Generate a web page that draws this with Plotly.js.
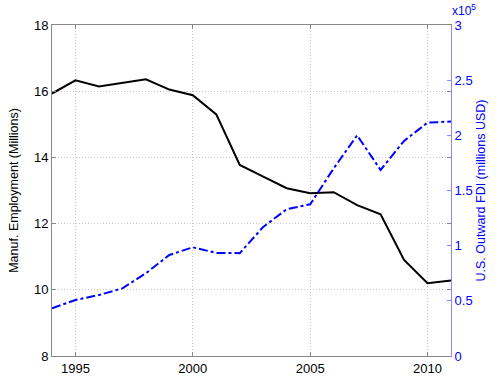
<!DOCTYPE html>
<html>
<head>
<meta charset="utf-8">
<script src="https://cdn.plot.ly/plotly-3.0.1.min.js"></script>
<style>html,body{margin:0;padding:0;background:#fff;}#chart{width:503px;height:383px;}</style>
</head>
<body>
<div id="chart"></div>
<script>
var years = [1994,1995,1996,1997,1998,1999,2000,2001,2002,2003,2004,2005,2006,2007,2008,2009,2010,2011];
var employment = [15.93,16.33,16.14,16.25,16.36,16.05,15.88,15.30,13.77,13.42,13.07,12.92,12.95,12.56,12.28,10.90,10.20,10.28];
var fdi = [43200,50800,55300,61300,75000,91600,98500,93400,93200,117000,133000,137500,170000,200000,168600,195000,211500,212500];
var xTicks = [1995,2000,2005,2010];
var yLeftTicks = [8,10,12,14,16,18];
var yRightTicks = [0,50000,100000,150000,200000,250000,300000];
var yRightLabels = ['0','0.5','1','1.5','2','2.5','3'];

var font = 'Liberation Sans, Arial, sans-serif';
var traces = [
  {x: years, y: employment, type: 'scatter', mode: 'lines', name: 'Employment',
   line: {color: '#000000', width: 2}, yaxis: 'y'},
  {x: years, y: fdi, type: 'scatter', mode: 'lines', name: 'FDI',
   line: {color: '#0000ff', width: 2, dash: 'dashdot'}, yaxis: 'y2'}
];
var layout = {
  width: 503, height: 383,
  margin: {l: 52, r: 52, t: 25, b: 27},
  paper_bgcolor: '#ffffff', plot_bgcolor: '#ffffff',
  showlegend: false,
  font: {family: font, size: 13, color: '#000'},
  xaxis: {
    range: [1994, 2011], tickvals: xTicks, ticktext: xTicks.map(String),
    showgrid: true, gridcolor: '#c8c8c8', griddash: '1px,2px', gridwidth: 1,
    zeroline: false, showline: true, linecolor: '#888888', linewidth: 1, mirror: 'ticks',
    ticks: 'inside', ticklen: 4, tickcolor: '#888888',
    tickfont: {family: font, size: 13, color: '#000'}
  },
  yaxis: {
    range: [8, 18], tickvals: yLeftTicks,
    showgrid: true, gridcolor: '#c8c8c8', griddash: '1px,2px', gridwidth: 1,
    zeroline: false, showline: true, linecolor: '#888888', linewidth: 1, mirror: 'ticks',
    ticks: 'inside', ticklen: 4, tickcolor: '#888888',
    tickfont: {family: font, size: 13, color: '#000'},
    title: {text: 'Manuf. Employment (Millions)', font: {family: font, size: 12.5, color: '#000'}, standoff: 12}
  },
  yaxis2: {
    overlaying: 'y', side: 'right', range: [0, 300000],
    tickvals: yRightTicks, ticktext: yRightLabels,
    showgrid: false, zeroline: false, showline: true, linecolor: '#8888ff', linewidth: 1,
    ticks: 'inside', ticklen: 4, tickcolor: '#8888ff',
    tickfont: {family: font, size: 13, color: '#0000ff'},
    title: {text: 'U.S. Outward FDI (millions USD)', font: {family: font, size: 12.5, color: '#0000ff'}, standoff: 4}
  },
  annotations: [
    {xref: 'paper', yref: 'paper', x: 1.0, y: 1.0, xanchor: 'left', yanchor: 'bottom',
     xshift: -1, yshift: 5, showarrow: false,
     text: 'x10<sup>5</sup>', font: {family: font, size: 12, color: '#0000ff'}}
  ]
};
Plotly.newPlot('chart', traces, layout, {displayModeBar: false, staticPlot: true});
</script>
</body>
</html>
